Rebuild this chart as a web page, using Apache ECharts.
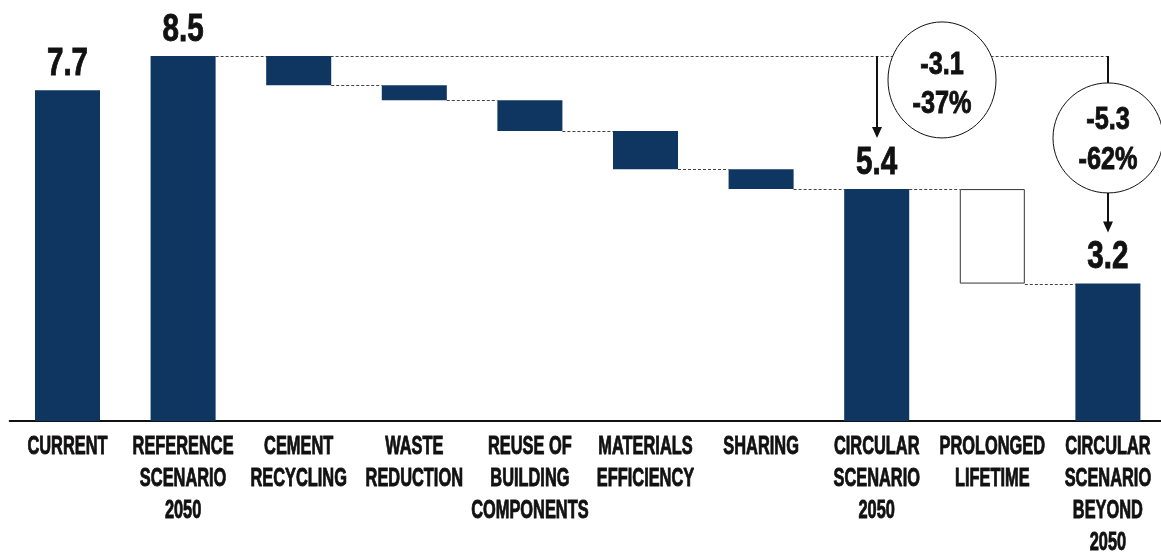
<!DOCTYPE html>
<html>
<head>
<meta charset="utf-8">
<script src="https://cdn.jsdelivr.net/npm/echarts@6/dist/echarts.min.js"></script>
<style>html,body{margin:0;padding:0;background:#fff}#c{width:1161px;height:554px}</style>
</head>
<body>
<div id="c"></div>
<script>
// ---------- data ----------
const categories = [
  'CURRENT',
  'REFERENCE\nSCENARIO\n2050',
  'CEMENT\nRECYCLING',
  'WASTE\nREDUCTION',
  'REUSE OF\nBUILDING\nCOMPONENTS',
  'MATERIALS\nEFFICIENCY',
  'SHARING',
  'CIRCULAR\nSCENARIO\n2050',
  'PROLONGED\nLIFETIME',
  'CIRCULAR\nSCENARIO\nBEYOND\n2050'
];
const totals  = [7.7, 8.5, null, null, null, null, null, 5.4, null, 3.2];
const changes = [null, null, -0.68, -0.35, -0.72, -0.89, -0.46, null, -2.2, null];
const hollowSteps = [8];               // drawn as outline only
const reduction2050   = ['-3.1', '-37%'];
const reductionBeyond = ['-5.3', '-62%'];
// annotation: [target category, reference category]
const annotations = [[7, 1], [9, 1]];
const annotationTexts = [reduction2050, reductionBeyond];

// ---------- styling ----------
const FONT = "'Liberation Sans', Arial, sans-serif";
const NAVY = '#0e3661';
const INK = '#111';
const BAR_RATIO = 0.5625;
const circleLayout = [
  {dx: 65, dy: 24, rx: 54, ry: 58, t1: -15, t2: 24},
  {dx: 0,  dy: 82, rx: 55, ry: 55, t1: -18, t2: 22}
];

// ---------- derived ----------
const startLv = [], endLv = [];
let lv = 0;
categories.forEach((c, i) => {
  if (totals[i] != null) { startLv[i] = 0; endLv[i] = totals[i]; lv = totals[i]; }
  else { startLv[i] = lv; endLv[i] = lv + changes[i]; lv = endLv[i]; }
});
const baseData = categories.map((c, i) => totals[i] != null ? 0 : Math.min(startLv[i], endLv[i]));
const sizeData = categories.map((c, i) => totals[i] != null ? totals[i] : Math.abs(changes[i]));
const solidData = sizeData.map((v, i) => hollowSteps.includes(i) ? '-' : v);
const hollowData = sizeData.map((v, i) => hollowSteps.includes(i) ? v : '-');

// connectors [from, to, level, toCenter]
const connectors = [];
for (let i = 2; i < categories.length - 1; i++) {
  const next = i + 1;
  const nextStart = totals[next] != null ? totals[next] : startLv[next];
  if (Math.abs(nextStart - endLv[i]) < 0.05) connectors.push([i, next, endLv[i], 0]);
}
connectors.push([1, 9, totals[1], 1]);

const annData = annotations.map(a => [a[0], totals[a[1]], totals[a[0]]]);
const totalLabelData = [];
totals.forEach((t, i) => { if (t != null) totalLabelData.push([i, t]); });
const catLabelData = categories.map((c, i) => [i, 0]);

function boldText(text, x, y, sx, size, vAlign, extra) {
  return {type: 'text', x: x, y: y, scaleX: sx, scaleY: 1,
    style: Object.assign({text: text, x: 0, y: 0, align: 'center', verticalAlign: vAlign,
      fill: INK, stroke: INK, lineWidth: 0.9, font: 'bold ' + size + 'px ' + FONT}, extra || {})};
}

const chart = echarts.init(document.getElementById('c'), null, {renderer: 'canvas'});
chart.setOption({
  animation: false,
  backgroundColor: '#fff',
  grid: {left: 9.7, width: 1156, top: 13, bottom: 133, outerBoundsMode: 'none'},
  xAxis: {
    type: 'category',
    data: categories,
    axisLine: {show: true, lineStyle: {color: INK, width: 2}},
    axisTick: {show: false},
    axisLabel: {show: false}
  },
  yAxis: {type: 'value', min: 0, max: 9.5, show: false, splitLine: {show: false}},
  series: [
    {
      type: 'custom', name: 'connectors', z: 1, clip: false,
      coordinateSystem: 'cartesian2d',
      encode: {x: [0, 1], y: 2},
      data: connectors,
      renderItem: function (params, api) {
        const from = api.value(0), to = api.value(1), level = api.value(2), toCenter = api.value(3);
        const bw = api.size([1, 0])[0] * BAR_RATIO;
        const p1 = api.coord([from, level]);
        const p2 = api.coord([to, level]);
        const x1 = p1[0] + bw / 2;
        const x2 = toCenter ? p2[0] : p2[0] - bw / 2;
        const y = Math.round(p1[1]) + 0.5;
        return {type: 'line', shape: {x1: x1, y1: y, x2: x2, y2: y},
          style: {stroke: '#444', lineWidth: 1, lineDash: [3, 2]}};
      }
    },
    {
      type: 'bar', name: 'base', stack: 'w', z: 2, silent: true,
      barWidth: (BAR_RATIO * 100) + '%',
      itemStyle: {color: 'rgba(0,0,0,0)'},
      data: baseData
    },
    {
      type: 'bar', name: 'solid', stack: 'w', z: 2,
      barWidth: (BAR_RATIO * 100) + '%',
      itemStyle: {color: NAVY},
      data: solidData
    },
    {
      type: 'bar', name: 'hollow', stack: 'w', z: 2,
      barWidth: (BAR_RATIO * 100) + '%',
      itemStyle: {color: '#fff', borderColor: '#333', borderWidth: 1},
      data: hollowData
    },
    {
      type: 'custom', name: 'totalLabels', z: 3, clip: false,
      coordinateSystem: 'cartesian2d',
      encode: {x: 0, y: 1},
      data: totalLabelData,
      renderItem: function (params, api) {
        const p = api.coord([api.value(0), api.value(1)]);
        return boldText(api.value(1).toFixed(1), p[0], p[1] - 26, 0.76, 39, 'middle');
      }
    },
    {
      type: 'custom', name: 'categoryLabels', z: 3, clip: false,
      coordinateSystem: 'cartesian2d',
      encode: {x: 0, y: 1},
      data: catLabelData,
      renderItem: function (params, api) {
        const p = api.coord([api.value(0), 0]);
        return boldText(categories[params.dataIndex], p[0], p[1] + 10, 0.63, 26, 'top', {lineHeight: 32});
      }
    },
    {
      type: 'custom', name: 'annotations', z: 4, clip: false,
      coordinateSystem: 'cartesian2d',
      encode: {x: 0, y: [1, 2]},
      data: annData,
      renderItem: function (params, api) {
        const k = params.dataIndex;
        const L = circleLayout[k];
        const top = api.coord([api.value(0), api.value(1)]);
        const bar = api.coord([api.value(0), api.value(2)]);
        const x = Math.round(top[0]);
        const y0 = top[1];
        const tip = bar[1] - 51;
        const cx = x + L.dx, cy = y0 + L.dy;
        const txt = annotationTexts[k];
        const t1 = boldText(txt[0], cx, cy + L.t1, 0.79, 32, 'middle'); t1.z2 = 3;
        const t2 = boldText(txt[1], cx, cy + L.t2, 0.79, 32, 'middle'); t2.z2 = 3;
        return {
          type: 'group',
          children: [
            {type: 'line', z2: 1, shape: {x1: x, y1: y0, x2: x, y2: tip - 10},
              style: {stroke: INK, lineWidth: 2}},
            {type: 'polygon', z2: 1, shape: {points: [[x - 5, tip - 11], [x + 5, tip - 11], [x, tip]]},
              style: {fill: INK}},
            {type: 'ellipse', z2: 2, shape: {cx: cx, cy: cy, rx: L.rx, ry: L.ry},
              style: {fill: '#fff', stroke: INK, lineWidth: 1}},
            t1, t2
          ]
        };
      }
    }
  ]
});
</script>
</body>
</html>
